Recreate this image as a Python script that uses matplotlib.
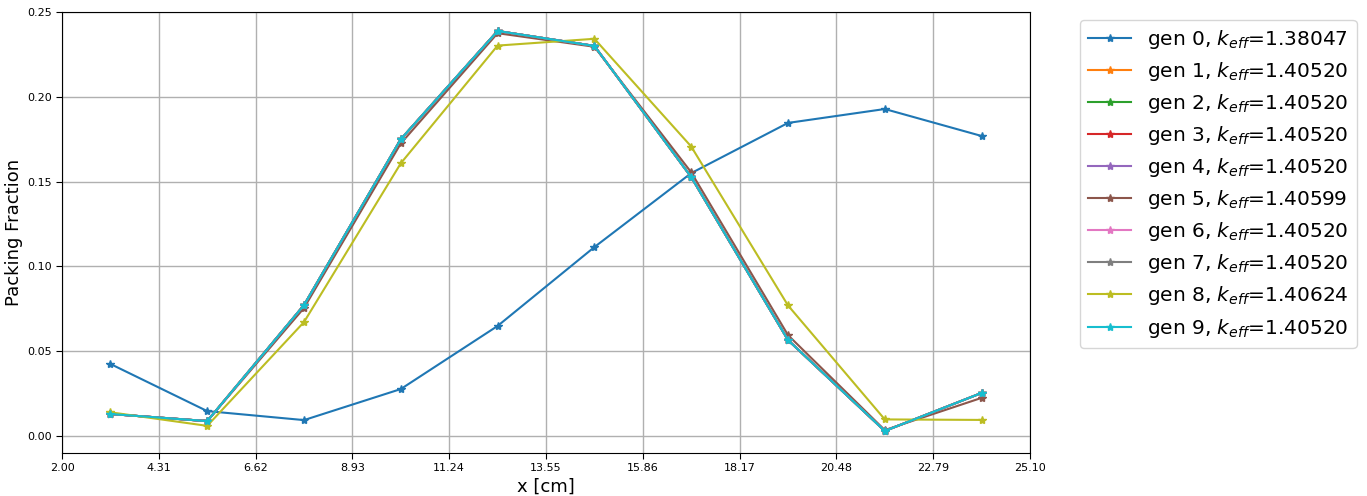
import matplotlib
matplotlib.use('Agg')
import matplotlib.pyplot as plt
import numpy as np

# bin edges of the x axis, points at bin centres
X_MIN = 2.00
X_MAX = 25.10
N_BINS = 10

K_EFF = [1.38047, 1.40520, 1.40520, 1.40520, 1.40520,
         1.40599, 1.40520, 1.40520, 1.40624, 1.40520]

gen0 = [0.0425, 0.0147, 0.0094, 0.0277, 0.0649, 0.1114, 0.1550, 0.1846, 0.1928, 0.1769]
gen_base = [0.0130, 0.0088, 0.0772, 0.1750, 0.2388, 0.2300, 0.1527, 0.0566, 0.0030, 0.0254]
gen5 = [0.0130, 0.0088, 0.0755, 0.1725, 0.2375, 0.2295, 0.1555, 0.0595, 0.0035, 0.0225]
gen8 = [0.0140, 0.0060, 0.0672, 0.1608, 0.2302, 0.2342, 0.1707, 0.0770, 0.0098, 0.0095]

generations = [gen0, gen_base, gen_base, gen_base, gen_base,
               gen5, gen_base, gen_base, gen8, gen_base]


def main():
    width = (X_MAX - X_MIN) / N_BINS
    edges = X_MIN + width * np.arange(N_BINS + 1)
    centres = edges[:-1] + width / 2

    fig = plt.figure(figsize=(13.67, 4.96), dpi=100)
    ax = fig.add_axes([62 / 1367, 1 - 453 / 496, 968 / 1367, 441 / 496])

    for i, values in enumerate(generations):
        ax.plot(centres, values, marker='*', markersize=6, linewidth=1.5,
                label='gen {}, $k_{{eff}}$={:.5f}'.format(i, K_EFF[i]))

    ax.set_xlim(X_MIN, X_MAX)
    ax.set_ylim(-0.01, 0.25)
    ax.set_xticks(edges)
    ax.set_xticklabels(['{:.2f}'.format(e) for e in edges])
    ax.tick_params(labelsize=8, length=4)
    ax.grid(True, color='#b0b0b0', linewidth=1)
    ax.set_xlabel('x [cm]', fontsize=13, labelpad=3)
    ax.set_ylabel('Packing Fraction', fontsize=13, labelpad=3)

    ax.legend(loc='upper left', bbox_to_anchor=(1.052, 0.982), borderaxespad=0,
              fontsize=14.5, handlelength=2.1, labelspacing=0.45)

    fig.savefig('out.png', dpi=100)


main()
